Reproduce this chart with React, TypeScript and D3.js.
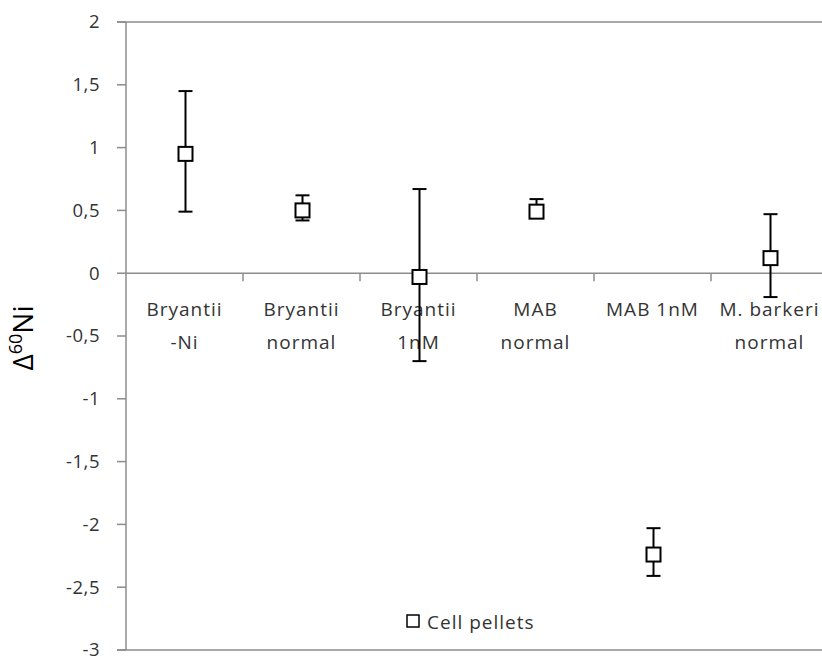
import React from "react";
import * as d3 from "d3";

const categories: string[][] = [
  ["Bryantii", "-Ni"],
  ["Bryantii", "normal"],
  ["Bryantii", "1nM"],
  ["MAB", "normal"],
  ["MAB 1nM"],
  ["M. barkeri", "normal"],
];
const values: number[] = [0.95, 0.5, -0.03, 0.49, -2.24, 0.12];
const errLow: number[] = [0.49, 0.42, -0.7, 0.45, -2.41, -0.19];
const errHigh: number[] = [1.45, 0.62, 0.67, 0.59, -2.03, 0.47];
const yTicks: number[] = [2, 1.5, 1, 0.5, 0, -0.5, -1, -1.5, -2, -2.5, -3];
const legendLabel = "Cell pellets";

const W = 822;
const H = 658;
const left = 126;
const right = 828;
const top = 22;
const bottom = 650;
const axisColor = "#8c8c8c";
const textColor = "#333333";
const font = "'Open Sans', sans-serif";

export default function App() {
  const keys = categories.map((c) => c.join(" "));
  const x = d3.scaleBand<string>().domain(keys).range([left, right]).padding(0);
  const y = d3.scaleLinear().domain([-3, 2]).range([bottom, top]);
  const fmt = (v: number) => String(v).replace(".", ",");
  const y0 = y(0);
  const cap = 7;
  const box = 14;

  return (
    <svg width={W} height={H} style={{ position: "absolute", left: 0, top: 0, background: "#fff" }}>
      {/* frame lines */}
      <line x1={left - 9} x2={W} y1={y(2)} y2={y(2)} stroke={axisColor} strokeWidth={1.5} />
      <line x1={left - 9} x2={W} y1={y(-3)} y2={y(-3)} stroke={axisColor} strokeWidth={1.5} />
      <line x1={left} x2={left} y1={top} y2={bottom} stroke={axisColor} strokeWidth={1.5} />
      {/* y ticks */}
      {yTicks.map((t) => (
        <g key={t}>
          <line x1={left - 9} x2={left} y1={y(t)} y2={y(t)} stroke={axisColor} strokeWidth={1.5} />
          <text
            x={100}
            y={y(t)}
            dy="0.35em"
            textAnchor="end"
            fontFamily={font}
            fontSize={18.5}
            letterSpacing={0.5}
            fill={textColor}
          >
            {fmt(t)}
          </text>
        </g>
      ))}
      {/* zero line */}
      <line x1={left} x2={W} y1={y0} y2={y0} stroke={axisColor} strokeWidth={1.5} />
      {keys.map((k) => (
        <line
          key={"t" + k}
          x1={(x(k) as number) + x.bandwidth()}
          x2={(x(k) as number) + x.bandwidth()}
          y1={y0}
          y2={y0 + 8}
          stroke={axisColor}
          strokeWidth={1.5}
        />
      ))}
      {/* category labels */}
      {categories.map((c, i) => {
        const cx = (x(keys[i]) as number) + x.bandwidth() / 2;
        return (
          <text
            key={"c" + i}
            textAnchor="middle"
            fontFamily={font}
            fontSize={19}
            letterSpacing={1}
            fill={textColor}
          >
            {c.map((line, j) => (
              <tspan key={j} x={cx} y={316 + j * 33}>
                {line}
              </tspan>
            ))}
          </text>
        );
      })}
      {/* error bars and markers */}
      {values.map((v, i) => {
        const cx = (x(keys[i]) as number) + x.bandwidth() / 2 + 1;
        return (
          <g key={"p" + i}>
            <line x1={cx} x2={cx} y1={y(errLow[i])} y2={y(errHigh[i])} stroke="#000" strokeWidth={2} />
            <line x1={cx - cap} x2={cx + cap} y1={y(errLow[i])} y2={y(errLow[i])} stroke="#000" strokeWidth={2} />
            <line x1={cx - cap} x2={cx + cap} y1={y(errHigh[i])} y2={y(errHigh[i])} stroke="#000" strokeWidth={2} />
            <rect
              x={cx - box / 2}
              y={y(v) - box / 2}
              width={box}
              height={box}
              fill="#fff"
              stroke="#000"
              strokeWidth={2}
            />
          </g>
        );
      })}
      {/* legend */}
      <rect x={407} y={615} width={12} height={12} fill="#fff" stroke="#000" strokeWidth={1.5} />
      <text x={427} y={622} dy="0.35em" fontFamily={font} fontSize={19} letterSpacing={1} fill={textColor}>
        {legendLabel}
      </text>
      {/* y axis title */}
      <text
        transform="translate(33,338) rotate(-90)"
        textAnchor="middle"
        fontFamily={font}
        fontSize={28}
        fill="#000"
      >
        Δ<tspan fontSize={18} dy={-11}>60</tspan>
        <tspan dy={11}>Ni</tspan>
      </text>
    </svg>
  );
}
